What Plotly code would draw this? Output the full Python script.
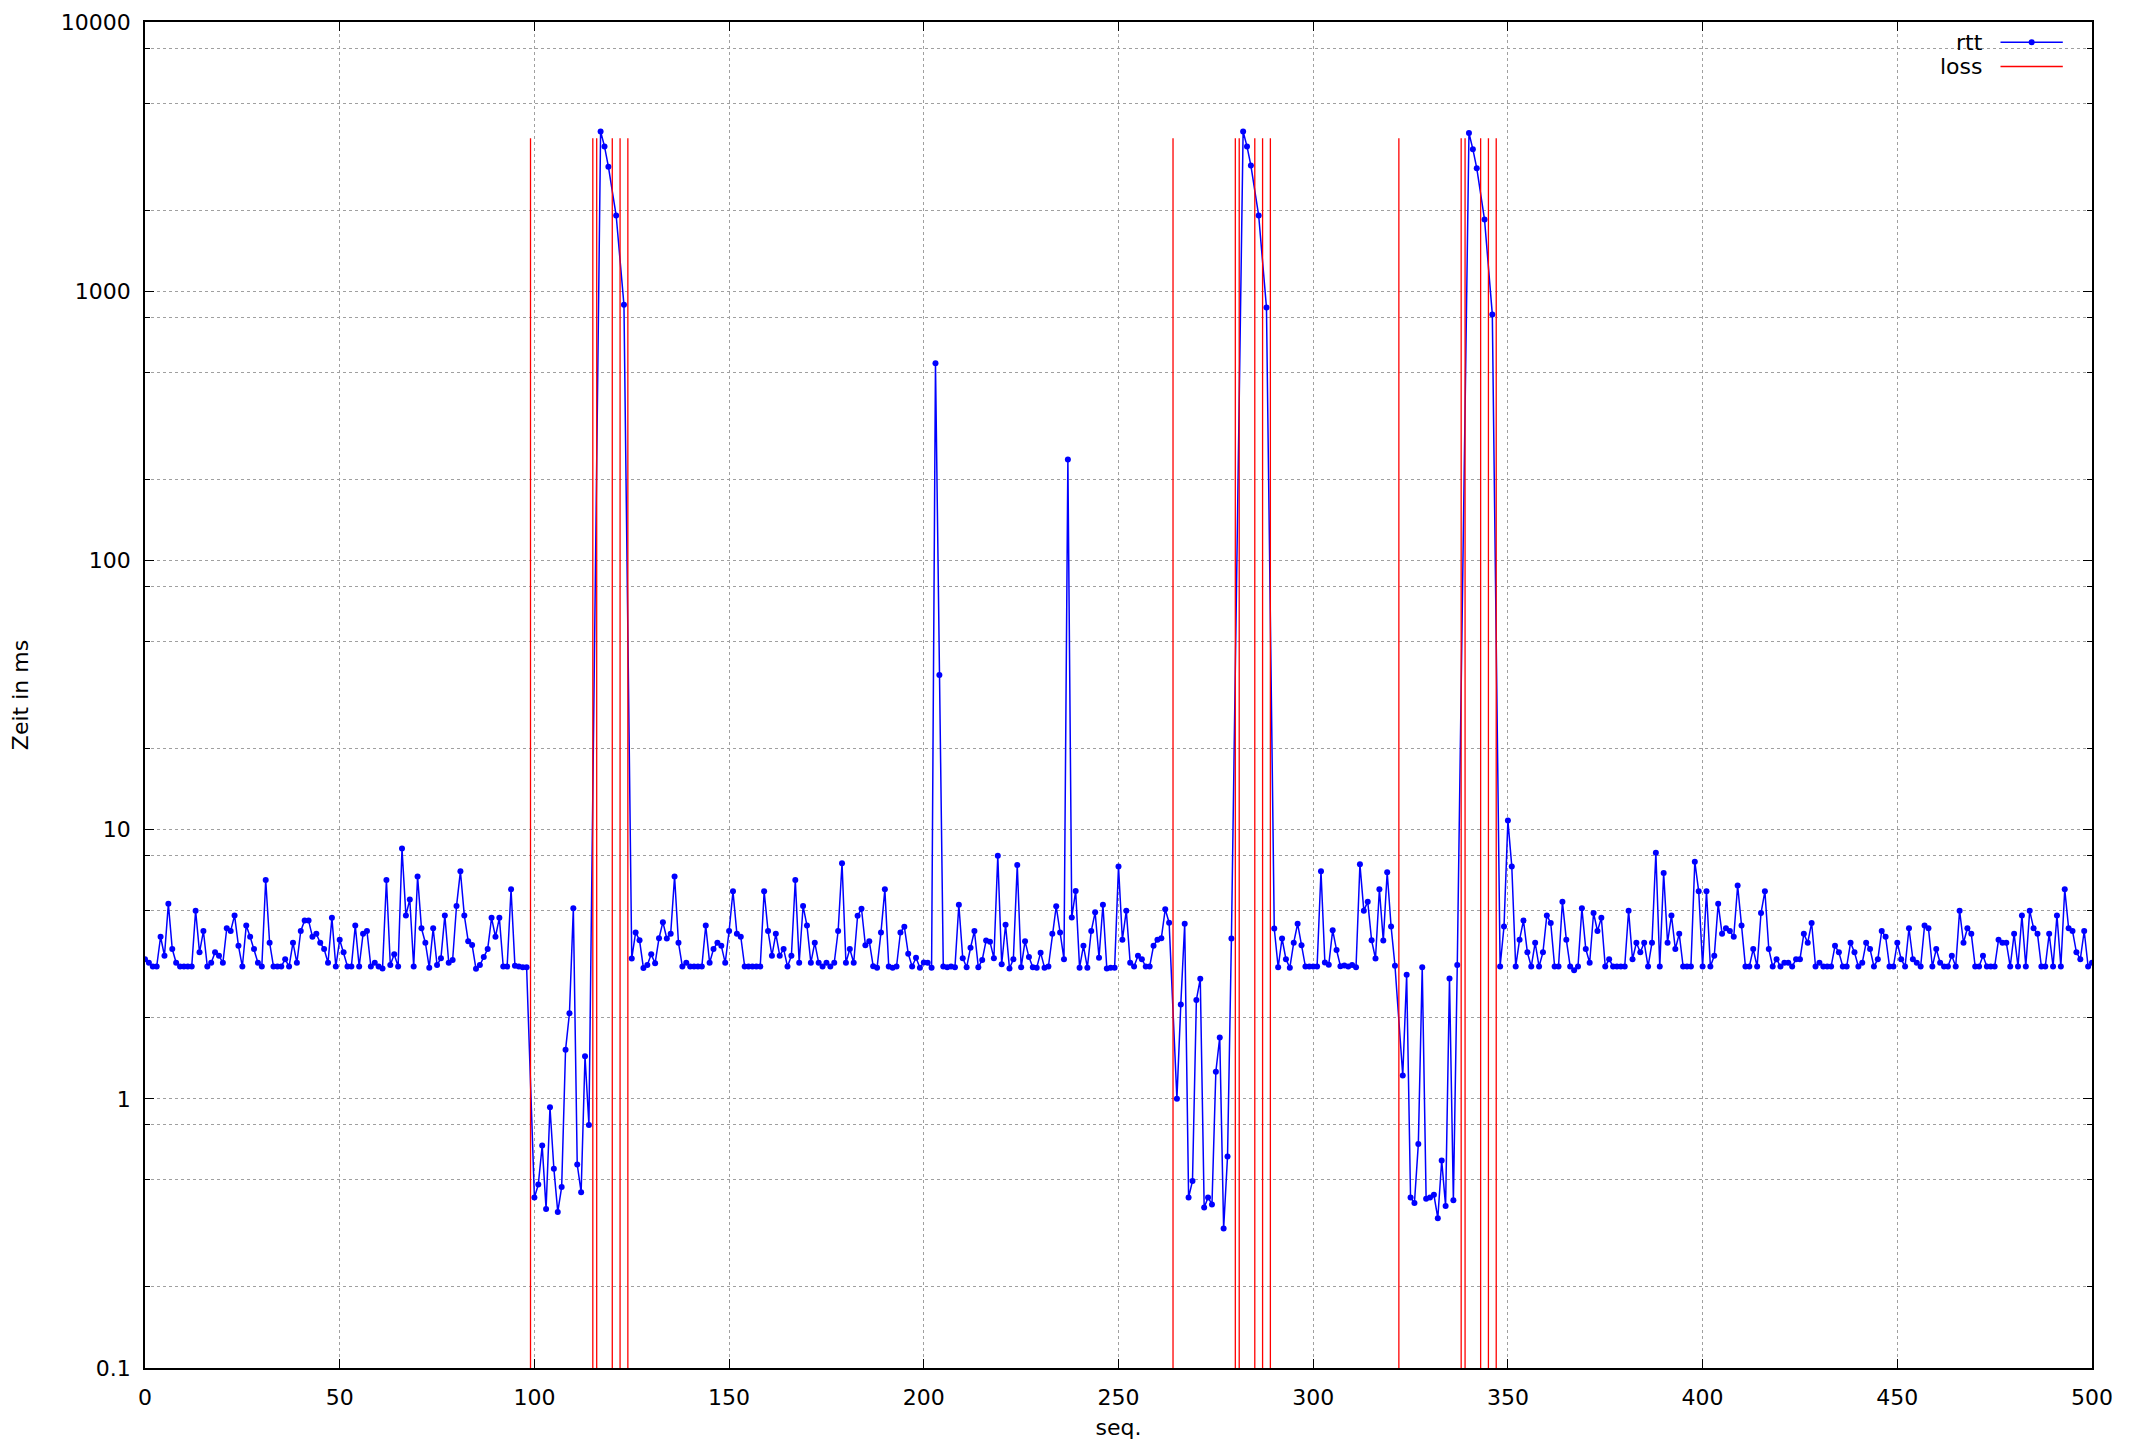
import plotly.graph_objects as go

# ---------------- data ----------------
loss_seq = [99, 115, 116, 120, 122, 124, 264, 280, 281, 285, 287, 289,
            322, 338, 339, 343, 345, 347]
loss_level = 3700

rtt_0_60 = [3.3, 3.2, 3.1, 3.1, 4.0, 3.4, 5.3, 3.6, 3.2, 3.1,
            3.1, 3.1, 3.1, 5.0, 3.5, 4.2, 3.1, 3.2, 3.5, 3.4,
            3.2, 4.3, 4.2, 4.8, 3.7, 3.1, 4.4, 4.0, 3.6, 3.2,
            3.1, 6.5, 3.8, 3.1, 3.1, 3.1, 3.3, 3.1, 3.8, 3.2,
            4.2, 4.6, 4.6, 4.0, 4.1, 3.8, 3.6, 3.2, 4.7, 3.1,
            3.9, 3.5, 3.1, 3.1, 4.4, 3.1, 4.1, 4.2, 3.1, 3.2,
            3.1]
rtt_61_98 = [3.05, 6.5, 3.14, 3.44, 3.1, 8.5, 4.8, 5.5, 3.1,
             6.7, 4.3, 3.8, 3.07, 4.3, 3.14, 3.33, 4.8, 3.2, 3.28,
             5.2, 7.0, 4.8, 3.85, 3.73, 3.04, 3.14, 3.36, 3.6, 4.7,
             4.0, 4.7, 3.1, 3.1, 6.0, 3.12, 3.1, 3.08, 3.08]
rtt_100_114 = [0.43, 0.48, 0.67, 0.39, 0.93, 0.55, 0.38, 0.47, 1.52, 2.08,
               5.1, 0.57, 0.45, 1.44, 0.80]
rtt_117_123 = [3920, 3450, 2900, 1910, 890]          # seq 117,118,119,121,123
rtt_125_136 = [3.32, 4.15, 3.88, 3.06, 3.14, 3.44, 3.19, 3.95, 4.53, 3.94, 4.1, 6.7]
rtt_137_182 = [3.8, 3.1, 3.2, 3.1, 3.1, 3.1, 3.1, 4.4, 3.2, 3.6,
               3.8, 3.7, 3.2, 4.2, 5.9, 4.1, 4.0, 3.1, 3.1, 3.1,
               3.1, 3.1, 5.9, 4.2, 3.4, 4.1, 3.4, 3.6, 3.1, 3.4,
               6.5, 3.2, 5.2, 4.4, 3.2, 3.8, 3.2, 3.1, 3.2, 3.1,
               3.2, 4.2, 7.5, 3.2, 3.6, 3.2]
rtt_183_204 = [4.79, 5.08, 3.72, 3.85, 3.11, 3.07, 4.15, 6.0, 3.1, 3.07,
               3.1, 4.15, 4.36, 3.46, 3.1, 3.34, 3.07, 3.21, 3.2, 3.07,
               540, 37.5]
rtt_205_250 = [3.1, 3.08, 3.1, 3.08, 5.26, 3.33, 3.08, 3.64, 4.2, 3.08,
               3.28, 3.87, 3.83, 3.33, 8.0, 3.16, 4.43, 3.05, 3.3, 7.38,
               3.08, 3.85, 3.36, 3.08, 3.07, 3.49, 3.07, 3.1, 4.1, 5.19,
               4.15, 3.3, 237, 4.71, 5.92, 3.07, 3.7, 3.07, 4.2, 4.93,
               3.34, 5.26, 3.05, 3.07, 3.07, 7.3]
rtt_251_263 = [3.9, 5.0, 3.2, 3.1, 3.4, 3.3, 3.1, 3.1, 3.7, 3.9, 3.95, 5.06, 4.51]
rtt_265_279 = [1.0, 2.24, 4.47, 0.43, 0.495, 2.33, 2.79, 0.395, 0.43, 0.405,
               1.26, 1.69, 0.33, 0.61, 3.94]
rtt_282_288 = [3920, 3450, 2930, 1910, 870]          # seq 282,283,284,286,288
rtt_290_321 = [4.29, 3.08, 3.94, 3.30, 3.07, 3.80, 4.47, 3.72, 3.1, 3.1,
               3.1, 3.1, 7.0, 3.21, 3.15, 4.23, 3.57, 3.11, 3.13, 3.1,
               3.14, 3.08, 7.43, 5.0, 5.4, 3.88, 3.32, 6.0, 3.87, 6.94,
               4.37, 3.12]
rtt_323_337 = [1.22, 2.89, 0.43, 0.41, 0.68, 3.08, 0.425, 0.43, 0.44, 0.36,
               0.59, 0.40, 2.8, 0.42, 3.14]
rtt_340_346 = [3870, 3370, 2865, 1845, 820]          # seq 340,341,342,344,346
rtt_348_500 = [3.1, 4.37, 10.8,
               7.3, 3.1, 3.9, 4.6, 3.5, 3.1, 3.8, 3.1, 3.5, 4.8,
               4.5, 3.1, 3.1, 5.4, 3.9, 3.1, 3.0, 3.1, 5.1, 3.6,
               3.2, 4.9, 4.2, 4.7, 3.1, 3.3, 3.1, 3.1, 3.1, 3.1, 5.0,
               3.3, 3.8, 3.5, 3.8, 3.1, 3.8, 8.2, 3.1, 6.9, 3.8,
               4.8, 3.6, 4.1, 3.1, 3.1, 3.1, 7.6, 5.9, 3.1, 5.9,
               3.1, 3.4, 5.3, 4.1, 4.3, 4.2, 4.0, 6.2, 4.4, 3.1,
               3.1, 3.6, 3.1, 4.9, 5.9, 3.6, 3.1, 3.3, 3.1, 3.2,
               3.2, 3.1, 3.3, 3.3, 4.1, 3.8, 4.5, 3.1, 3.2, 3.1,
               3.1, 3.1, 3.7, 3.5, 3.1, 3.1, 3.8, 3.5, 3.1, 3.2,
               3.8, 3.6, 3.1, 3.3, 4.2, 4.0, 3.1, 3.1, 3.8, 3.3,
               3.1, 4.3, 3.3, 3.2, 3.1, 4.4, 4.3, 3.1, 3.6, 3.2,
               3.1, 3.1, 3.4, 3.1, 5.0, 3.8, 4.3, 4.1, 3.1, 3.1,
               3.4, 3.1, 3.1, 3.1, 3.9, 3.8, 3.8, 3.1, 4.1, 3.1,
               4.8, 3.1, 5.0, 4.3, 4.1, 3.1, 3.1, 4.1, 3.1, 4.8,
               3.1, 6.0, 4.3, 4.2, 3.5, 3.3, 4.2, 3.1, 3.2]

rtt_ms = (rtt_0_60 + rtt_61_98 + rtt_100_114 + rtt_117_123 + rtt_125_136
          + rtt_137_182 + rtt_183_204 + rtt_205_250 + rtt_251_263 + rtt_265_279
          + rtt_282_288 + rtt_290_321 + rtt_323_337 + rtt_340_346 + rtt_348_500)
# every sequence number that was not lost has an rtt sample
rtt_seq = [s for s in range(0, 501) if s not in loss_seq][:len(rtt_ms)]

x_ticks = [0, 50, 100, 150, 200, 250, 300, 350, 400, 450, 500]
y_ticks = [0.1, 1, 10, 100, 1000, 10000]
y_ticktext = ["0.1", "1", "10", "100", "1000", "10000"]
y_minor = [m * 10.0 ** e for e in range(-1, 4) for m in (2, 5, 8)]

# ---------------- figure ----------------
W, H = 2135, 1446
ML, MR, MT, MB = 145, 43, 10, 78
FONT = "DejaVu Sans"
FS = 22
GRID = "#a0a0a0"

fig = go.Figure()
fig.add_trace(go.Scatter(
    x=rtt_seq, y=rtt_ms, mode="lines+markers", name="rtt",
    line=dict(color="#0000ff", width=1.5),
    marker=dict(color="#0000ff", size=6),
    showlegend=False, cliponaxis=True))

lx, ly = [], []
for s in loss_seq:
    lx += [s, s, None]
    ly += [0.1, loss_level, None]
fig.add_trace(go.Scatter(
    x=lx, y=ly, mode="lines", name="loss",
    line=dict(color="#ff0000", width=1.3), showlegend=False))

fig.update_layout(
    width=W, height=H, autosize=False,
    margin=dict(l=ML, r=MR, t=MT, b=MB, pad=0),
    paper_bgcolor="white", plot_bgcolor="white",
    font=dict(family=FONT, size=FS, color="black"),
    showlegend=False,
)
fig.update_xaxes(
    range=[0, 500], tickmode="array", tickvals=x_ticks,
    showline=True, linecolor="black", linewidth=1.5, mirror="ticks",
    ticks="inside", ticklen=9, tickwidth=1.3, tickcolor="black",
    showgrid=True, gridcolor=GRID, griddash="dot", gridwidth=1,
    zeroline=False, ticklabelstandoff=9, ticklabeloverflow="allow",
    title=dict(text="seq.", font=dict(family=FONT, size=FS), standoff=10),
)
fig.update_yaxes(
    type="log", range=[-1, 4], tickmode="array", tickvals=y_ticks,
    ticktext=y_ticktext,
    showline=True, linecolor="black", linewidth=1.5, mirror="ticks",
    ticks="inside", ticklen=9, tickwidth=1.3, tickcolor="black",
    showgrid=True, gridcolor=GRID, griddash="dot", gridwidth=1,
    minor=dict(tickmode="array", tickvals=y_minor, ticks="inside", ticklen=5,
               tickcolor="black", showgrid=True, gridcolor=GRID,
               griddash="dot", gridwidth=1),
    zeroline=False, ticklabelstandoff=8, ticklabeloverflow="allow",
    title=dict(text="Zeit in ms", font=dict(family=FONT, size=FS), standoff=26),
)

# gnuplot-style key (text right-aligned, sample to the right)
key = [("rtt", "#0000ff", 0.985, True), ("loss", "#ff0000", 0.967, False)]
for label, col, yk, dot in key:
    fig.add_annotation(xref="paper", yref="paper", x=0.945, y=yk, text=label,
                       showarrow=False, xanchor="right", yanchor="middle",
                       font=dict(family=FONT, size=FS, color="black"))
    fig.add_shape(type="line", xref="paper", yref="paper",
                  x0=0.953, x1=0.985, y0=yk, y1=yk,
                  line=dict(color=col, width=1.5))
    if dot:
        fig.add_shape(type="circle", xref="paper", yref="paper",
                      xsizemode="pixel", ysizemode="pixel",
                      xanchor=0.969, yanchor=yk, x0=-3, x1=3, y0=-3, y1=3,
                      fillcolor=col, line=dict(color=col, width=0))

fig.write_html("out.html", config={"displayModeBar": False},
               post_script="document.body.style.margin='0';document.body.style.overflow='hidden';")
